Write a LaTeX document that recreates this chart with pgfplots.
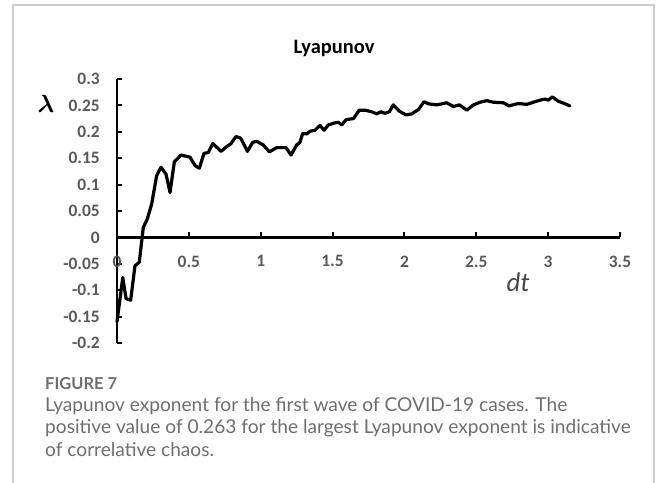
\documentclass[border=0pt]{standalone}
\usepackage{fontspec}
\setmainfont{Carlito}
\newfontfamily\capfont{Lato}
\usepackage{pgfplots}
\pgfplotsset{compat=1.18}
\definecolor{tickgray}{RGB}{89,89,89}
\definecolor{capgray}{RGB}{110,110,110}
\definecolor{framegray}{RGB}{205,205,205}
\begin{document}
\begin{tikzpicture}
\path[use as bounding box] (0,0) rectangle (656bp,-483bp);
\draw[framegray, line width=1.3bp] (13bp,-483bp) -- (13bp,-5bp) -- (654bp,-5bp) -- (654bp,-483bp);
\begin{axis}[
  at={(117bp,-343bp)}, anchor=south west,
  scale only axis, width=503bp, height=264bp,
  xmin=0, xmax=3.5, ymin=-0.2, ymax=0.3,
  enlargelimits=false,
  axis x line=middle, axis y line=left,
  axis line style={-, line width=2.4bp, black},
  hide obscured x ticks=false, hide obscured y ticks=false,
  xtick={0,0.5,1,1.5,2,2.5,3,3.5},
  xticklabels={0,0.5,1,1.5,2,2.5,3,3.5},
  ytick={-0.2,-0.15,-0.1,-0.05,0,0.05,0.1,0.15,0.2,0.25,0.3},
  yticklabels={-0.2,-0.15,-0.1,-0.05,0,0.05,0.1,0.15,0.2,0.25,0.3},
  tick align=inside,
  major tick length=5bp,
  tick style={line width=2bp, black},
  ticklabel style={font=\bfseries\fontsize{17.5}{17.5}\selectfont, text=tickgray, inner sep=0pt},
  yticklabel style={anchor=east, xshift=-17bp},
  xticklabel style={anchor=north, yshift=-18bp},
  clip=false,
]
\addplot[black, line width=3.2bp, line join=round, line cap=round] coordinates {
(0,-0.16) (0.04,-0.076) (0.063,-0.116) (0.095,-0.119) (0.125,-0.054) (0.155,-0.047)
(0.183,0.019) (0.211,0.035) (0.241,0.063) (0.276,0.117) (0.306,0.133) (0.341,0.120)
(0.369,0.085) (0.399,0.143) (0.445,0.156) (0.508,0.152) (0.543,0.136) (0.573,0.131)
(0.605,0.159) (0.636,0.161) (0.666,0.178) (0.724,0.163) (0.763,0.172) (0.791,0.177)
(0.828,0.191) (0.861,0.188) (0.907,0.163) (0.944,0.180) (0.972,0.182) (1.018,0.175)
(1.060,0.162) (1.111,0.170) (1.176,0.170) (1.211,0.156) (1.250,0.175) (1.273,0.180)
(1.292,0.197) (1.320,0.196) (1.343,0.201) (1.378,0.203) (1.413,0.212) (1.441,0.203)
(1.470,0.213) (1.517,0.217) (1.540,0.218) (1.564,0.213) (1.594,0.223) (1.645,0.225)
(1.686,0.241) (1.726,0.241) (1.772,0.238) (1.807,0.234) (1.835,0.238) (1.865,0.235)
(1.895,0.238) (1.923,0.251) (1.965,0.239) (2.011,0.232) (2.051,0.234) (2.097,0.242)
(2.136,0.257) (2.167,0.253) (2.225,0.251) (2.294,0.255) (2.341,0.248) (2.382,0.251)
(2.434,0.241) (2.480,0.251) (2.526,0.256) (2.573,0.259) (2.619,0.256) (2.689,0.255)
(2.728,0.249) (2.782,0.253) (2.816,0.253) (2.851,0.252) (2.897,0.256) (2.944,0.260)
(2.978,0.262) (3.001,0.260) (3.029,0.266) (3.071,0.258) (3.118,0.253) (3.152,0.249)
};
\end{axis}
\node[anchor=base, inner sep=0pt, font=\bfseries\fontsize{20.5}{20.5}\selectfont] at (334bp,-53bp) {Lyapunov};
\node[inner sep=0pt, font={\boldmath\fontsize{28}{28}\selectfont}] at (46bp,-104bp) {$\lambda$};
\node[inner sep=0pt, text=tickgray!80!black, font=\itshape\fontsize{27}{27}\selectfont] at (518bp,-282bp) {dt};
\node[anchor=base west, inner sep=0pt, text=capgray, font=\capfont\bfseries\fontsize{16.5}{16.5}\selectfont] at (45bp,-389bp) {FIGURE 7};
\node[anchor=base west, inner sep=0pt, text=capgray, font=\capfont\fontsize{19.2}{19.2}\selectfont] at (45bp,-411bp) {Lyapunov exponent for the first wave of COVID-19 cases. The};
\node[anchor=base west, inner sep=0pt, text=capgray, font=\capfont\fontsize{19.2}{19.2}\selectfont] at (45bp,-433.5bp) {positive value of 0.263 for the largest Lyapunov exponent is indicative};
\node[anchor=base west, inner sep=0pt, text=capgray, font=\capfont\fontsize{19.2}{19.2}\selectfont] at (45bp,-456bp) {of correlative chaos.};
\end{tikzpicture}
\end{document}
